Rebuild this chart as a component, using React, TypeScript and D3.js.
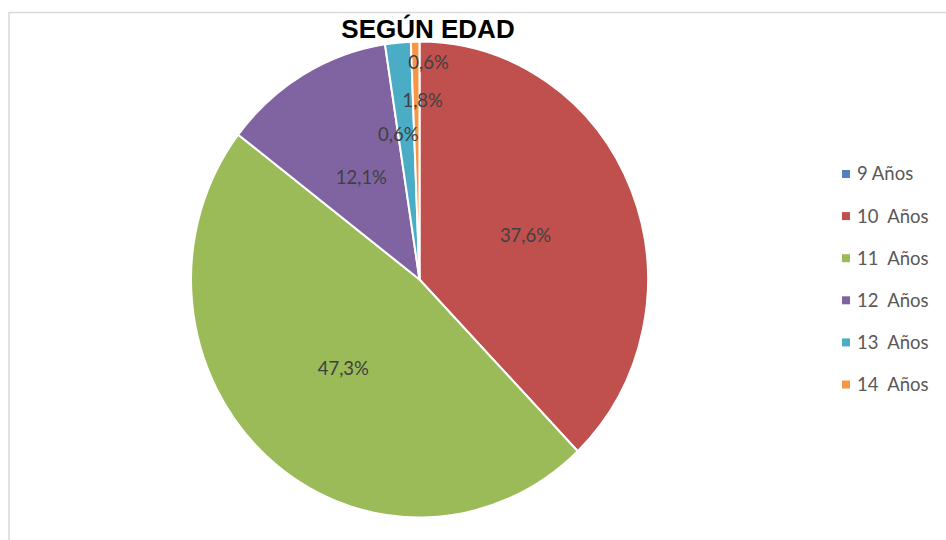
import React from 'react';
import * as d3 from 'd3';

// categories and values (percent)
const categories = ['9 Años', '10  Años', '11  Años', '12  Años', '13  Años', '14  Años'];
// the 9 Años slice has no visible width in the picture
const values = [0, 37.6, 47.3, 12.1, 1.8, 0.6];
const labels = ['0,6%', '37,6%', '47,3%', '12,1%', '1,8%', '0,6%'];
const colors = ['#4F81BD', '#C0504D', '#9BBB59', '#8064A2', '#4BACC6', '#F79646'];

// label nudges for the thin slices (px), like Excel moves them to avoid overlap
const labelNudge = [[9, -98], [14, -61], [-19, -26], [0, 0]];

const App = () => {
  const width = 946;
  const height = 540;
  const cx = 419.5;
  const cy = 279.5;
  const radius = 238;
  const squash = 0.96;

  const pie = d3.pie<number>().sort(null).value(d => d)(values);
  const arc = d3.arc<d3.PieArcDatum<number>>().innerRadius(0).outerRadius(radius);

  const nudgeFor = (i: number) => {
    if (i === 0) return labelNudge[0];
    if (i === 4) return labelNudge[1];
    if (i === 5) return labelNudge[2];
    return labelNudge[3];
  };

  // legend scale
  const legendY = d3.scalePoint<string>().domain(categories).range([174, 384.5]);

  return (
    <svg width={width} height={height} style={{ position: 'absolute', left: 0, top: 0 }}>
      <rect x={0} y={0} width={width} height={height} fill="#fff" />
      <rect x={9} y={12.5} width={1200} height={1200} fill="none" stroke="#D9D9D9" strokeWidth={1.5} />

      <text x={428} y={38} textAnchor="middle" fontFamily="'Liberation Sans', Arial, sans-serif"
        fontWeight="bold" fontSize={26} fill="#000">SEGÚN EDAD</text>

      <g transform={`translate(${cx},${cy}) scale(${squash},1)`}>
        {pie.map((d, i) => (
          <path key={i} d={arc(d) || ''} fill={colors[i]} stroke="#fff" strokeWidth={2}
            vectorEffect="non-scaling-stroke" />
        ))}
      </g>

      {pie.map((d, i) => {
        const [x, y] = arc.centroid(d);
        const [nx, ny] = nudgeFor(i);
        return (
          <text key={i} x={cx + x * squash + nx} y={cy + y + ny} dy="0.35em" textAnchor="middle"
            fontFamily="Lato, 'Open Sans', sans-serif" fontSize={18.5} fill="#404040">
            {labels[i]}
          </text>
        );
      })}

      {categories.map((c, i) => (
        <g key={c} transform={`translate(842,${legendY(c)})`}>
          <rect x={0} y={-4} width={8} height={8} fill={colors[i]} />
          <text x={15} y={0} dy="0.35em" fontFamily="Lato, 'Open Sans', sans-serif" fontSize={18.5}
            fill="#595959" style={{ whiteSpace: 'pre' }}>{c}</text>
        </g>
      ))}
    </svg>
  );
};

export default App;
